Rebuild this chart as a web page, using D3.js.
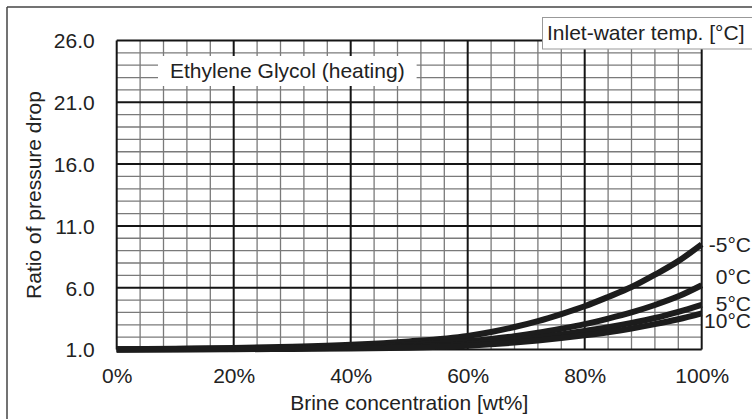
<!DOCTYPE html>
<html>
<head>
<meta charset="utf-8">
<script src="https://cdn.jsdelivr.net/npm/d3@7"></script>
<style>
  html, body { margin: 0; padding: 0; background: #fff; }
  svg { display: block; font-family: "Liberation Sans", Arial, sans-serif; }
</style>
</head>
<body>
<svg id="chart" width="752" height="419"></svg>
<script>
// ---- data ----
const concentration = [0, 10, 20, 30, 40, 50, 60, 64, 68, 72, 76, 80, 84, 88, 92, 96, 100];
const seriesNames = ["-5°C", "0°C", "5°C", "10°C"];
const ratioMinus5 = [1.02, 1.07, 1.12, 1.22, 1.38, 1.65, 2.1, 2.42, 2.82, 3.3, 3.87, 4.5, 5.25, 6.05, 7.05, 8.15, 9.5];
const ratio0 =      [1.0, 1.04, 1.08, 1.14, 1.22, 1.38, 1.68, 1.86, 2.08, 2.35, 2.68, 3.05, 3.5, 4.0, 4.6, 5.3, 6.2];
const ratio5 =      [1.0, 1.02, 1.05, 1.09, 1.15, 1.25, 1.45, 1.6, 1.78, 1.98, 2.22, 2.5, 2.8, 3.15, 3.55, 4.05, 4.62];
const ratio10 =     [1.0, 1.0, 1.02, 1.05, 1.08, 1.15, 1.3, 1.42, 1.56, 1.73, 1.93, 2.15, 2.4, 2.7, 3.05, 3.45, 3.93];
const yTicks = [1.0, 6.0, 11.0, 16.0, 21.0, 26.0];
const xTicks = [0, 20, 40, 60, 80, 100];
const chartTitle = "Ethylene Glycol (heating)";
const legendTitle = "Inlet-water temp. [°C]";
const xTitle = "Brine concentration [wt%]";
const yTitle = "Ratio of pressure drop";

// ---- layout / style ----
const svg = d3.select("#chart");
const plot = { left: 116.7, right: 701.7, top: 40.5, bottom: 349.5 };
const textColor = "#222";
const fontSize = 21;
const labelDy = [0, -9, -1, 7];

const x = d3.scaleLinear().domain([0, 100]).range([plot.left, plot.right]);
const y = d3.scaleLinear().domain([1, 26]).range([plot.bottom, plot.top]);

// outer frame
svg.append("line").attr("x1", 7).attr("x2", 7).attr("y1", 7).attr("y2", 425)
  .attr("stroke", "#444").attr("stroke-width", 1.5);
svg.append("line").attr("x1", 7).attr("x2", 760).attr("y1", 7).attr("y2", 7)
  .attr("stroke", "#444").attr("stroke-width", 1.5);

// grid: minor
const minorX = d3.range(0, 100.001, 4);
const minorY = d3.range(1, 26.001, 1);
const grid = svg.append("g");
grid.selectAll("line.mx").data(minorX.filter(v => v % 20 !== 0)).join("line")
  .attr("x1", d => x(d)).attr("x2", d => x(d))
  .attr("y1", plot.top).attr("y2", plot.bottom)
  .attr("stroke", "#7a7a7a").attr("stroke-width", 1.3);
grid.selectAll("line.my").data(minorY.filter(v => (v - 1) % 5 !== 0)).join("line")
  .attr("y1", d => y(d)).attr("y2", d => y(d))
  .attr("x1", plot.left).attr("x2", plot.right)
  .attr("stroke", "#7a7a7a").attr("stroke-width", 1.3);
// grid: major
grid.selectAll("line.Mx").data(xTicks).join("line")
  .attr("x1", d => x(d)).attr("x2", d => x(d))
  .attr("y1", plot.top).attr("y2", plot.bottom)
  .attr("stroke", "#151515").attr("stroke-width", 2);
grid.selectAll("line.My").data(yTicks).join("line")
  .attr("y1", d => y(d)).attr("y2", d => y(d))
  .attr("x1", plot.left).attr("x2", plot.right)
  .attr("stroke", "#151515").attr("stroke-width", 2);

// chart title box
const titleG = svg.append("g");
const titleText = titleG.append("text")
  .attr("x", 170).attr("y", 71).attr("dy", "0.35em")
  .attr("font-size", fontSize).attr("fill", textColor).text(chartTitle);
const tw = titleText.node().getComputedTextLength();
titleG.insert("rect", "text").attr("x", 158).attr("y", 56)
  .attr("width", tw + 24).attr("height", 30).attr("fill", "#fff");

// axes
const xAxis = d3.axisBottom(x).tickValues(xTicks).tickFormat(d => d + "%").tickSize(0).tickPadding(0);
const gx = svg.append("g").attr("transform", `translate(0,${plot.bottom})`).call(xAxis);
gx.select(".domain").remove();
gx.selectAll("text").attr("font-size", fontSize).attr("fill", textColor)
  .attr("font-family", "Liberation Sans, Arial, sans-serif")
  .attr("y", 26).attr("dy", "0.35em");

const yAxis = d3.axisLeft(y).tickValues(yTicks).tickFormat(d3.format(".1f")).tickSize(0).tickPadding(0);
const gy = svg.append("g").attr("transform", `translate(${plot.left},0)`).call(yAxis);
gy.select(".domain").remove();
gy.selectAll("text").attr("font-size", fontSize).attr("fill", textColor)
  .attr("font-family", "Liberation Sans, Arial, sans-serif")
  .attr("x", -22).attr("dy", "0.35em");

svg.append("text").attr("x", (plot.left + plot.right) / 2).attr("y", 403).attr("dy", "0.35em")
  .attr("text-anchor", "middle").attr("font-size", fontSize).attr("fill", textColor).text(xTitle);
svg.append("text").attr("transform", `translate(34,${(plot.top + plot.bottom) / 2}) rotate(-90)`)
  .attr("dy", "0.35em").attr("text-anchor", "middle").attr("font-size", fontSize)
  .attr("fill", textColor).text(yTitle);

// curves
const seriesValues = [ratioMinus5, ratio0, ratio5, ratio10];
const line = d3.line().x(d => x(d[0])).y(d => y(d[1])).curve(d3.curveMonotoneX);
const curves = svg.append("g");
seriesValues.forEach((vals, i) => {
  const pts = concentration.map((c, j) => [c, vals[j]]);
  curves.append("path").attr("d", line(pts)).attr("fill", "none")
    .attr("stroke", "#1c1c1c").attr("stroke-width", 6).attr("stroke-linecap", "butt");
  svg.append("text").attr("x", 751).attr("y", y(vals[vals.length - 1]) + labelDy[i])
    .attr("dy", "0.35em").attr("text-anchor", "end").attr("font-size", fontSize)
    .attr("fill", textColor).text(seriesNames[i]);
});

// legend title box
svg.append("rect").attr("x", 542.5).attr("y", 17.5).attr("width", 230).attr("height", 31.5)
  .attr("fill", "#fff").attr("stroke", "#999").attr("stroke-width", 1);
svg.append("text").attr("x", 547).attr("y", 33).attr("dy", "0.35em")
  .attr("font-size", fontSize).attr("fill", textColor).text(legendTitle);
</script>
</body>
</html>
